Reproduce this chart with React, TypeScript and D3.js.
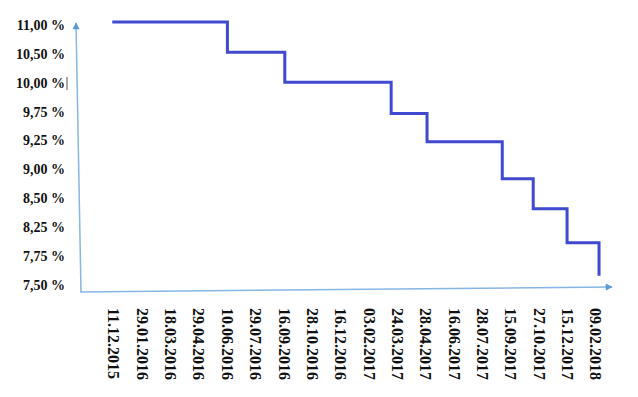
import React from 'react';
import * as d3 from 'd3';

const yTickLabels = ['11,00 %', '10,50 %', '10,00 %', '9,75 %', '9,25 %', '9,00 %', '8,50 %', '8,25 %', '7,75 %', '7,50 %'];
const yTickValues = [11, 10.5, 10, 9.75, 9.25, 9, 8.5, 8.25, 7.75, 7.5];

const xTickLabels = [
  '11.12.2015', '29.01.2016', '18.03.2016', '29.04.2016', '10.06.2016', '29.07.2016',
  '16.09.2016', '28.10.2016', '16.12.2016', '03.02.2017', '24.03.2017', '28.04.2017',
  '16.06.2017', '28.07.2017', '15.09.2017', '27.10.2017', '15.12.2017', '09.02.2018',
];

// step change dates and the rate level (as read on the drawn axis)
const stepDates = ['08.12.2015', '10.06.2016', '17.09.2016', '13.03.2017', '30.04.2017', '31.08.2017', '18.10.2017', '14.12.2017', '15.02.2018'];
const stepRates = [11.05, 10.53, 10.01, 9.72, 9.24, 8.84, 8.41, 7.98, 7.58];

const W = 638;
const H = 397;

export default function App() {
  const parse = d3.timeParse('%d.%m.%Y');

  const yPoint = d3.scalePoint<string>().domain(yTickLabels).range([25, 285]);
  const yScale = d3
    .scaleLinear()
    .domain(yTickValues.slice().reverse())
    .range(yTickLabels.map((l) => yPoint(l) as number).reverse());

  const xPoint = d3.scalePoint<string>().domain(xTickLabels).range([114, 596]);
  const xScale = d3
    .scaleTime()
    .domain(xTickLabels.map((l) => parse(l) as Date))
    .range(xTickLabels.map((l) => xPoint(l) as number));

  const data = stepDates.map((d, i) => ({ date: parse(d) as Date, rate: stepRates[i] }));
  const line = d3
    .line<{ date: Date; rate: number }>()
    .x((d) => xScale(d.date))
    .y((d) => yScale(d.rate))
    .curve(d3.curveStepAfter);

  const axisColor = '#86b6e6';
  const arrowColor = '#5b9bd5';

  return (
    <svg
      width={W}
      height={H}
      viewBox={`0 0 ${W} ${H}`}
      style={{ position: 'absolute', left: 0, top: 0, background: '#fff' }}
    >
      <defs>
        <marker id="arr" viewBox="0 0 10 10" refX="9" refY="5" markerWidth="8" markerHeight="7" markerUnits="userSpaceOnUse" orient="auto">
          <path d="M0,0 L10,5 L0,10 z" fill={arrowColor} />
        </marker>
      </defs>

      {/* axes */}
      <path d="M81,292 L76,23" stroke={axisColor} strokeWidth={1.5} fill="none" markerEnd="url(#arr)" />
      <path d="M80,292 L612,287" stroke={axisColor} strokeWidth={1.5} fill="none" markerEnd="url(#arr)" />

      {/* y labels */}
      {yTickLabels.map((l) => (
        <text
          key={l}
          x={65}
          y={yPoint(l) as number}
          dy="0.35em"
          textAnchor="end"
          fontFamily="'Liberation Serif', 'Times New Roman', serif"
          fontWeight="bold"
          fontSize={14}
          fill="#111"
        >
          {l}
        </text>
      ))}
      <line x1={67} y1={77} x2={67} y2={90} stroke="#555" strokeWidth={1} />

      {/* x labels */}
      {xTickLabels.map((l) => (
        <text
          key={l}
          transform={`translate(${xPoint(l)},308) rotate(90)`}
          dy="0.35em"
          textAnchor="start"
          fontFamily="'Liberation Serif', 'Times New Roman', serif"
          fontWeight="bold"
          fontSize={16}
          fill="#111"
        >
          {l}
        </text>
      ))}

      {/* step line */}
      <path d={line(data) || ''} fill="none" stroke="#4049cf" strokeWidth={3} strokeLinejoin="miter" />
    </svg>
  );
}
